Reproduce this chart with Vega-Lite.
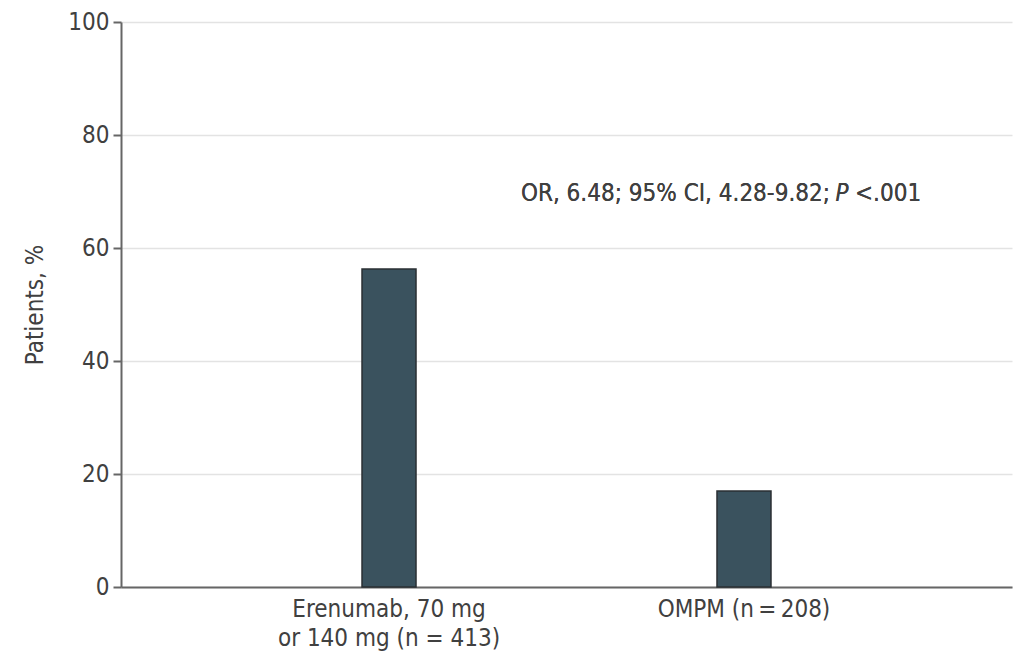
{
  "$schema": "https://vega.github.io/schema/vega-lite/v6.json",
  "autosize": "none",
  "width": 891,
  "height": 565,
  "padding": {"left": 121, "top": 22, "right": 3, "bottom": 71},
  "background": "white",
  "config": {
    "view": {"stroke": null},
    "font": "Liberation Sans Narrow, DejaVu Sans Condensed, Roboto Condensed, Roboto, sans-serif",
    "axis": {"labelFont": "Liberation Sans Narrow, DejaVu Sans Condensed, Roboto Condensed, sans-serif", "titleFont": "Liberation Sans Narrow, DejaVu Sans Condensed, Roboto Condensed, sans-serif"}
  },
  "data": {
    "values": [
      {"group": "Erenumab, 70 mg|or 140 mg (n = 413)", "pct": 56.3},
      {"group": "OMPM (n\u2009=\u2009208)", "pct": 17.0}
    ]
  },
  "layer": [
    {
      "mark": {"type": "bar", "size": 54, "color": "#3a525e", "stroke": "#2a2f33", "strokeWidth": 1.5},
      "encoding": {
        "x": {
          "field": "group", "type": "nominal", "sort": null,
          "scale": {"paddingInner": 0, "paddingOuter": 0.255},
          "axis": {
            "title": null, "labelAngle": 0, "ticks": false, "domainColor": "#666666", "domainWidth": 2,
            "labelFontSize": 24, "labelColor": "#404040", "labelPadding": 10, "labelLimit": 0,
            "labelExpr": "split(datum.label, '|')", "labelLineHeight": 29
          }
        },
        "y": {
          "field": "pct", "type": "quantitative",
          "scale": {"domain": [0, 100]},
          "axis": {
            "title": "Patients, %", "titleFontSize": 24, "titleFontWeight": "normal", "titleColor": "#404040",
            "titlePadding": 20, "values": [0, 20, 40, 60, 80, 100],
            "labelFontSize": 24, "labelColor": "#404040", "labelPadding": 4,
            "tickColor": "#666666", "tickWidth": 2, "tickSize": 8,
            "domainColor": "#666666", "domainWidth": 2,
            "grid": true, "gridColor": "#e3e3e3", "gridWidth": 1.5
          }
        }
      }
    },
    {
      "mark": {"type": "text", "align": "right", "baseline": "middle", "dx": 86, "fontSize": 24, "color": "#404040"},
      "encoding": {
        "x": {"datum": "OMPM (n\u2009=\u2009208)", "type": "nominal"},
        "y": {"datum": 69.6, "type": "quantitative"},
        "text": {"value": "OR, 6.48; 95% CI, 4.28-9.82;"}
      }
    },
    {
      "mark": {"type": "text", "align": "center", "baseline": "middle", "dx": 98, "fontSize": 24, "fontStyle": "italic", "color": "#404040"},
      "encoding": {
        "x": {"datum": "OMPM (n\u2009=\u2009208)", "type": "nominal"},
        "y": {"datum": 69.6, "type": "quantitative"},
        "text": {"value": "P"}
      }
    },
    {
      "mark": {"type": "text", "align": "left", "baseline": "middle", "dx": 111, "fontSize": 24, "color": "#404040"},
      "encoding": {
        "x": {"datum": "OMPM (n\u2009=\u2009208)", "type": "nominal"},
        "y": {"datum": 69.6, "type": "quantitative"},
        "text": {"value": "<.001"}
      }
    }
  ]
}
